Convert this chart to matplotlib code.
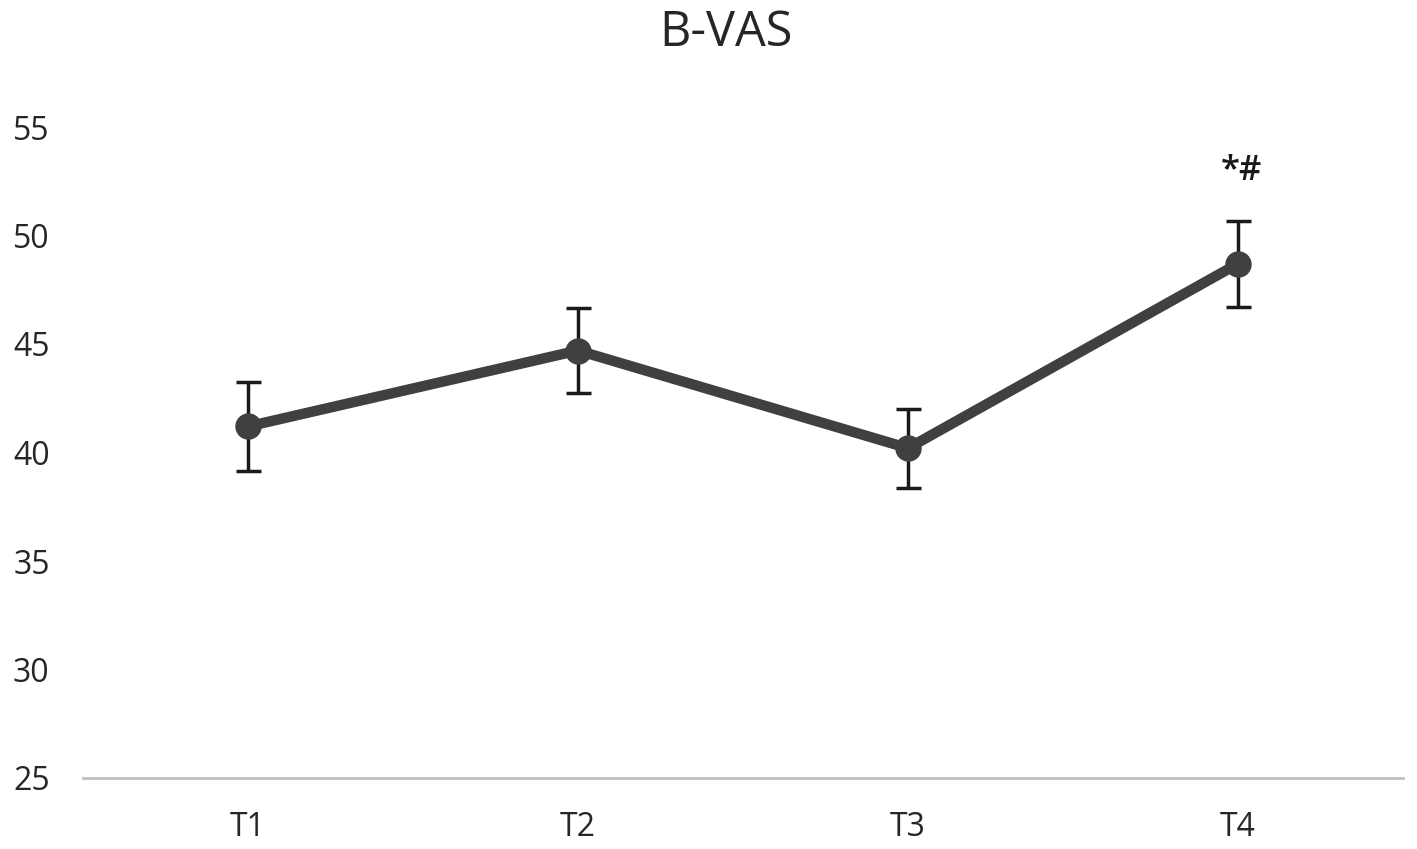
import matplotlib
matplotlib.use("Agg")
import matplotlib.pyplot as plt

categories = ["T1", "T2", "T3", "T4"]
values = [41.2, 44.7, 40.2, 48.7]
errors = [2.05, 1.94, 1.82, 1.98]
annotations = ["", "", "", "*#"]
yticks = [25, 30, 35, 40, 45, 50, 55]
title = "B-VAS"

plt.rcParams['font.family'] = ['Open Sans', 'DejaVu Sans']

fig = plt.figure(figsize=(14.17, 8.49), dpi=100)
ax = fig.add_axes([83/1417, 1 - 778/849, (1403-83)/1417, (778-127)/849])

x = list(range(len(categories)))
ax.plot(x, values, color='#404040', lw=7.5, solid_capstyle='round', zorder=2)
ax.errorbar(x, values, yerr=errors, fmt='none', ecolor='#1a1a1a', elinewidth=2.5,
            capsize=9, capthick=2.5, zorder=3)
ax.plot(x, values, 'o', color='#404040', markersize=18, zorder=4)

for xi, v, e, a in zip(x, values, errors, annotations):
    if a:
        ax.text(xi + 0.01, v + e + 1.5, a, ha='center', va='bottom', fontsize=25,
                fontweight='semibold', color='#1a1a1a')

ax.set_xlim(-0.5, len(categories) - 0.5)
ax.set_ylim(25, 55)
ax.set_yticks(yticks)
ax.set_xticks(x)
ax.set_xticklabels(categories)
for s in ['top', 'right', 'left']:
    ax.spines[s].set_visible(False)
ax.spines['bottom'].set_color('#bfbfbf')
ax.spines['bottom'].set_linewidth(2)
ax.tick_params(axis='both', length=0, labelsize=23, colors='#262626')
ax.tick_params(axis='y', pad=24)
ax.tick_params(axis='x', pad=24)

fig.text(726/1417, 1 - 33/849, title, ha='center', va='center', fontsize=35, color='#262626')

fig.savefig("out.png", dpi=100, facecolor='white')
